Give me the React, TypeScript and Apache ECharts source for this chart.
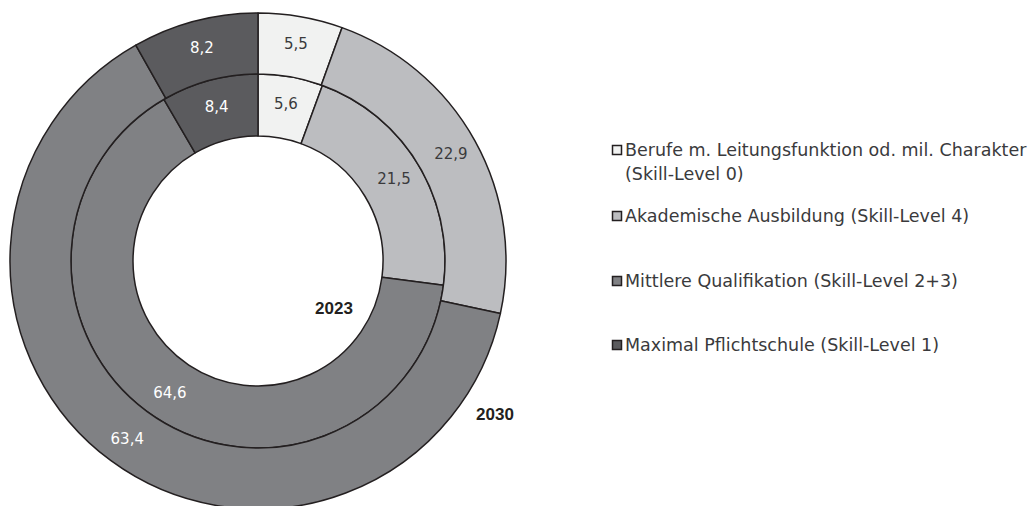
import React, { useEffect, useRef } from "react";
import * as echarts from "echarts";

const categories = [
  "Berufe m. Leitungsfunktion od. mil. Charakter (Skill-Level 0)",
  "Akademische Ausbildung (Skill-Level 4)",
  "Mittlere Qualifikation (Skill-Level 2+3)",
  "Maximal Pflichtschule (Skill-Level 1)",
];
const legendLines = [
  ["Berufe m. Leitungsfunktion od. mil. Charakter", "(Skill-Level 0)"],
  ["Akademische Ausbildung (Skill-Level 4)"],
  ["Mittlere Qualifikation (Skill-Level 2+3)"],
  ["Maximal Pflichtschule (Skill-Level 1)"],
];
const values2023 = [5.6, 21.5, 64.6, 8.4];
const values2030 = [5.5, 22.9, 63.4, 8.2];
const yearLabels = ["2023", "2030"];

const colors = ["#f1f2f1", "#bcbdc0", "#808184", "#5b5b5e"];
const labelColors = ["#3a3a3c", "#3a3a3c", "#ffffff", "#ffffff"];
const BORDER = "#231f20";
const FONT = "'DejaVu Sans', sans-serif";

const fmt = (v: number) => v.toFixed(1).replace(".", ",");

function makeData(values: number[]) {
  return values.map((v, i) => ({
    name: categories[i],
    value: v,
    itemStyle: { color: colors[i] },
    label: { color: labelColors[i] },
  }));
}

export default function App() {
  const ref = useRef<HTMLDivElement>(null);
  useEffect(() => {
    if (!ref.current) return;
    const chart = echarts.init(ref.current, null, { renderer: "svg" });
    const cx = 258;
    const cy = 261;
    const legendY = [150, 216, 281, 345];
    const legendGraphics: any[] = [];
    legendLines.forEach((lines, i) => {
      legendGraphics.push({
        type: "rect",
        shape: { x: 612.5, y: legendY[i] - 4.5, width: 9, height: 9 },
        style: { fill: colors[i], stroke: BORDER, lineWidth: 1.5 },
      });
      lines.forEach((line, j) => {
        legendGraphics.push({
          type: "text",
          x: 625,
          y: legendY[i] + j * 24,
          style: {
            text: line,
            font: `17.5px ${FONT}`,
            fill: "#3a3a3c",
            verticalAlign: "middle",
            align: "left",
          },
        });
      });
    });
    const seriesCommon = {
      type: "pie",
      center: [cx, cy],
      startAngle: 90,
      clockwise: true,
      avoidLabelOverlap: false,
      labelLine: { show: false },
      itemStyle: { borderColor: BORDER, borderWidth: 1.5 },
      emphasis: { disabled: true },
      label: {
        show: true,
        position: "inside",
        fontFamily: FONT,
        fontSize: 15,
        formatter: (p: any) => fmt(p.value),
      },
    };
    chart.setOption({
      animation: false,
      backgroundColor: "#ffffff",
      series: [
        { ...seriesCommon, name: yearLabels[0], radius: [125, 187], data: makeData(values2023) },
        { ...seriesCommon, name: yearLabels[1], radius: [187, 248], data: makeData(values2030) },
      ],
      graphic: [
        ...legendGraphics,
        {
          type: "text",
          x: 334,
          y: 308,
          style: {
            text: yearLabels[0],
            font: "bold 17px 'Liberation Sans', Arial, sans-serif",
            fill: "#231f20",
            align: "center",
            verticalAlign: "middle",
          },
        },
        {
          type: "text",
          x: 495,
          y: 414,
          style: {
            text: yearLabels[1],
            font: "bold 17px 'Liberation Sans', Arial, sans-serif",
            fill: "#231f20",
            align: "center",
            verticalAlign: "middle",
          },
        },
      ],
    });
    return () => chart.dispose();
  }, []);
  return (
    <div
      ref={ref}
      style={{ position: "fixed", left: 0, top: 0, width: 1032, height: 506 }}
    />
  );
}
